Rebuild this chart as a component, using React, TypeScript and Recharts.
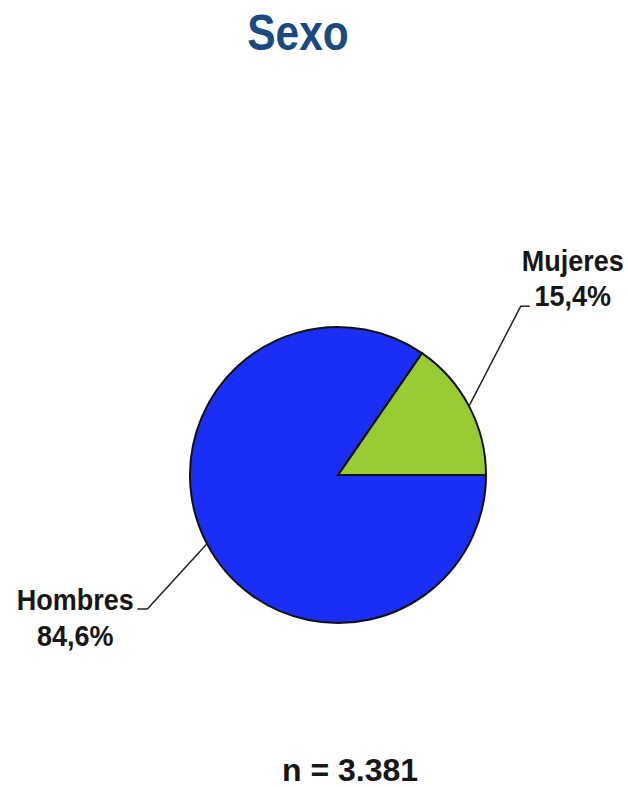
import { PieChart, Pie, Cell } from 'recharts';

const categories = ['Mujeres', 'Hombres'];
const values = [15.4, 84.6];
const colors = ['#99cc33', '#1a2ef5'];
const title = 'Sexo';
const footnote = 'n = 3.381';

const data = categories.map((name, i) => ({ name, value: values[i] }));

const FONT = "'Liberation Sans', Arial, sans-serif";
const RAD = Math.PI / 180;

const fmt = (v: number) => v.toFixed(1).replace('.', ',') + '%';

// narrow-ish bold text (no Arial Narrow here, so squeeze it)
const NarrowText = ({ x, y, children }: any) => (
  <text
    transform={`translate(${x},${y}) scale(0.9,1)`}
    textAnchor="middle"
    fontFamily={FONT}
    fontWeight="bold"
    fontSize={30}
    fill="#161616"
  >
    {children}
  </text>
);

// label with a bent leader line, right side text sits above the line end, left side below
const renderLabel = (props: any) => {
  const { cx, cy, midAngle, outerRadius, payload } = props;
  const right = Math.cos(midAngle * RAD) > 0;
  const sx = cx + outerRadius * Math.cos(midAngle * RAD);
  const sy = cy - outerRadius * Math.sin(midAngle * RAD);
  const elbowAngle = midAngle + (right ? 15 : 7.4);
  const elbowR = outerRadius * (right ? 1.68 : 1.575);
  const ex = cx + elbowR * Math.cos(elbowAngle * RAD);
  const ey = cy - elbowR * Math.sin(elbowAngle * RAD);
  const tx = ex + (right ? 9 : -10);
  const textX = right ? tx + 43 : tx - 62;
  const line1 = right ? ey - 35 : ey + 1;
  const line2 = right ? ey : ey + 37;
  return (
    <g>
      <polyline
        points={`${sx},${sy} ${ex},${ey} ${tx},${ey}`}
        fill="none"
        stroke="#222"
        strokeWidth={1.5}
      />
      <NarrowText x={textX} y={line1}>{payload.name}</NarrowText>
      <NarrowText x={textX} y={line2}>{fmt(payload.value)}</NarrowText>
    </g>
  );
};

export default function App() {
  return (
    <div style={{ position: 'absolute', left: 0, top: 0, width: 628, height: 787, background: '#fff' }}>
      <div
        style={{
          position: 'absolute', left: 0, top: 4, width: 596, textAlign: 'center',
          fontFamily: FONT, fontWeight: 'bold', fontSize: 50, color: '#1b4a80',
          transform: 'scaleX(0.85)', transformOrigin: '298px 0',
        }}
      >
        {title}
      </div>
      <PieChart width={628} height={787}>
        <Pie
          data={data}
          dataKey="value"
          nameKey="name"
          cx={333}
          cy={470}
          outerRadius={148}
          startAngle={0}
          endAngle={360}
          stroke="#111"
          strokeWidth={2}
          label={renderLabel}
          labelLine={false}
          isAnimationActive={false}
        >
          {data.map((d, i) => (
            <Cell key={d.name} fill={colors[i]} />
          ))}
        </Pie>
      </PieChart>
      <div
        style={{
          position: 'absolute', left: 0, top: 752, width: 700, textAlign: 'center',
          fontFamily: FONT, fontWeight: 'bold', fontSize: 32, color: '#161616',
        }}
      >
        {footnote}
      </div>
    </div>
  );
}
